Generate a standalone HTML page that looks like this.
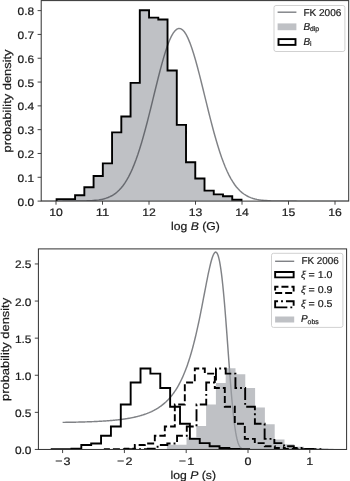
<!DOCTYPE html>
<html><head><meta charset="utf-8"><title>chart</title>
<style>html,body{margin:0;padding:0;background:#fff;}body{width:350px;height:481px;overflow:hidden;font-family:"Liberation Sans",sans-serif;}svg{display:block;will-change:transform;}text{text-rendering:geometricPrecision;stroke:#1a1a1a;stroke-width:0.2px;}</style>
</head><body>
<svg width="350" height="481" viewBox="0 0 350 481">
<rect width="350" height="481" fill="#fff"/>
<defs><clipPath id="ct"><rect x="41.2" y="0.6" width="307.5" height="200.5"/></clipPath>
<clipPath id="cb"><rect x="38.4" y="248.9" width="308.2" height="200.55"/></clipPath></defs>
<g clip-path="url(#ct)">
<path d="M56.6 201.1 L56.6 199.11 L65.85 199.11 L65.85 199.11 L75.09 199.11 L75.09 195.19 L84.34 195.19 L84.34 187.3 L93.58 187.3 L93.58 176.07 L102.83 176.07 L102.83 163.4 L112.07 163.4 L112.07 132.33 L121.31 132.33 L121.31 116.55 L130.56 116.55 L130.56 82.86 L139.8 82.86 L139.8 10.2 L149.05 10.2 L149.05 17.61 L158.29 17.61 L158.29 19.52 L167.53 19.52 L167.53 70.43 L176.78 70.43 L176.78 124.92 L186.02 124.92 L186.02 162.2 L195.27 162.2 L195.27 178.46 L204.51 178.46 L204.51 190.64 L213.76 190.64 L213.76 194.35 L223 194.35 L223 196.26 L232.24 196.26 L232.24 199.77 L241.49 199.77 L241.49 201.1 Z" fill="#000818" fill-opacity="0.25" stroke="none"/>
<path d="M37.4 201.1 L39.26 201.1 L41.12 201.1 L42.98 201.1 L44.84 201.1 L46.7 201.1 L48.56 201.1 L50.42 201.1 L52.28 201.1 L54.14 201.1 L56 201.1 L57.86 201.1 L59.72 201.1 L61.58 201.1 L63.44 201.09 L65.3 201.09 L67.16 201.09 L69.02 201.08 L70.88 201.08 L72.74 201.07 L74.6 201.06 L76.46 201.05 L78.32 201.03 L80.18 201 L82.04 200.97 L83.9 200.93 L85.76 200.88 L87.62 200.82 L89.48 200.73 L91.34 200.63 L93.2 200.5 L95.06 200.33 L96.92 200.13 L98.78 199.87 L100.64 199.56 L102.5 199.18 L104.36 198.72 L106.22 198.16 L108.08 197.49 L109.94 196.7 L111.8 195.75 L113.66 194.64 L115.52 193.34 L117.38 191.82 L119.24 190.07 L121.1 188.05 L122.96 185.74 L124.82 183.13 L126.68 180.17 L128.54 176.87 L130.4 173.18 L132.26 169.11 L134.12 164.63 L135.98 159.75 L137.84 154.47 L139.7 148.78 L141.56 142.71 L143.42 136.28 L145.28 129.52 L147.14 122.48 L149 115.19 L150.86 107.73 L152.72 100.16 L154.58 92.54 L156.44 84.97 L158.3 77.52 L160.16 70.29 L162.02 63.37 L163.88 56.84 L165.74 50.81 L167.6 45.35 L169.46 40.54 L171.32 36.45 L173.18 33.15 L175.04 30.69 L176.9 29.11 L178.76 28.42 L180.62 28.65 L182.48 29.79 L184.34 31.81 L186.2 34.7 L188.06 38.4 L189.92 42.85 L191.78 48 L193.64 53.76 L195.5 60.05 L197.36 66.79 L199.22 73.87 L201.08 81.22 L202.94 88.74 L204.8 96.35 L206.66 103.95 L208.52 111.48 L210.38 118.86 L212.24 126.03 L214.1 132.94 L215.96 139.54 L217.82 145.79 L219.68 151.67 L221.54 157.16 L223.4 162.24 L225.26 166.92 L227.12 171.19 L228.98 175.07 L230.84 178.57 L232.7 181.69 L234.56 184.47 L236.42 186.93 L238.28 189.09 L240.14 190.97 L242 192.61 L243.86 194.01 L245.72 195.22 L247.58 196.25 L249.44 197.11 L251.3 197.84 L253.16 198.45 L255.02 198.96 L256.88 199.38 L258.74 199.73 L260.6 200.01 L262.46 200.23 L264.32 200.42 L266.18 200.57 L268.04 200.68 L269.9 200.78 L271.76 200.85 L273.62 200.91 L275.48 200.95 L277.34 200.99 L279.2 201.02 L281.06 201.04 L282.92 201.05 L284.78 201.07 L286.64 201.07 L288.5 201.08 L290.36 201.09 L292.22 201.09 L294.08 201.09 L295.94 201.09 L297.8 201.1 L299.66 201.1 L301.52 201.1 L303.38 201.1 L305.24 201.1 L307.1 201.1 L308.96 201.1 L310.82 201.1 L312.68 201.1 L314.54 201.1 L316.4 201.1 L318.26 201.1 L320.12 201.1 L321.98 201.1 L323.84 201.1 L325.7 201.1 L327.56 201.1 L329.42 201.1 L331.28 201.1 L333.14 201.1 L335 201.1 L336.86 201.1 L338.72 201.1 L340.58 201.1 L342.44 201.1 L344.3 201.1 L346.16 201.1 L348.02 201.1 L349.88 201.1 L351.74 201.1 L353.6 201.1" fill="none" stroke="#32353c" stroke-opacity="0.62" stroke-width="1.45"/>
<path d="M56.6 201.1 L56.6 199.11 L65.85 199.11 L65.85 199.11 L75.09 199.11 L75.09 195.19 L84.34 195.19 L84.34 187.3 L93.58 187.3 L93.58 176.07 L102.83 176.07 L102.83 163.4 L112.07 163.4 L112.07 132.33 L121.31 132.33 L121.31 116.55 L130.56 116.55 L130.56 82.86 L139.8 82.86 L139.8 10.2 L149.05 10.2 L149.05 17.61 L158.29 17.61 L158.29 19.52 L167.53 19.52 L167.53 70.43 L176.78 70.43 L176.78 124.92 L186.02 124.92 L186.02 162.2 L195.27 162.2 L195.27 178.46 L204.51 178.46 L204.51 190.64 L213.76 190.64 L213.76 194.35 L223 194.35 L223 196.26 L232.24 196.26 L232.24 199.77 L241.49 199.77 L241.49 201.1" fill="none" stroke="#000" stroke-width="1.9" stroke-linejoin="miter"/>
</g>
<rect x="41.2" y="0.6" width="307.5" height="200.5" fill="none" stroke="#303030" stroke-width="1.0"/>
<line x1="56" y1="201.1" x2="56" y2="204.7" stroke="#303030" stroke-width="0.9"/>
<text x="56" y="216.3" font-family="Liberation Sans, sans-serif" font-size="10.9" text-anchor="middle" fill="#1a1a1a" textLength="13.6" lengthAdjust="spacingAndGlyphs" >10</text>
<line x1="102.5" y1="201.1" x2="102.5" y2="204.7" stroke="#303030" stroke-width="0.9"/>
<text x="102.5" y="216.3" font-family="Liberation Sans, sans-serif" font-size="10.9" text-anchor="middle" fill="#1a1a1a" textLength="13.6" lengthAdjust="spacingAndGlyphs" >11</text>
<line x1="149" y1="201.1" x2="149" y2="204.7" stroke="#303030" stroke-width="0.9"/>
<text x="149" y="216.3" font-family="Liberation Sans, sans-serif" font-size="10.9" text-anchor="middle" fill="#1a1a1a" textLength="13.6" lengthAdjust="spacingAndGlyphs" >12</text>
<line x1="195.5" y1="201.1" x2="195.5" y2="204.7" stroke="#303030" stroke-width="0.9"/>
<text x="195.5" y="216.3" font-family="Liberation Sans, sans-serif" font-size="10.9" text-anchor="middle" fill="#1a1a1a" textLength="13.6" lengthAdjust="spacingAndGlyphs" >13</text>
<line x1="242" y1="201.1" x2="242" y2="204.7" stroke="#303030" stroke-width="0.9"/>
<text x="242" y="216.3" font-family="Liberation Sans, sans-serif" font-size="10.9" text-anchor="middle" fill="#1a1a1a" textLength="13.6" lengthAdjust="spacingAndGlyphs" >14</text>
<line x1="288.5" y1="201.1" x2="288.5" y2="204.7" stroke="#303030" stroke-width="0.9"/>
<text x="288.5" y="216.3" font-family="Liberation Sans, sans-serif" font-size="10.9" text-anchor="middle" fill="#1a1a1a" textLength="13.6" lengthAdjust="spacingAndGlyphs" >15</text>
<line x1="335" y1="201.1" x2="335" y2="204.7" stroke="#303030" stroke-width="0.9"/>
<text x="335" y="216.3" font-family="Liberation Sans, sans-serif" font-size="10.9" text-anchor="middle" fill="#1a1a1a" textLength="13.6" lengthAdjust="spacingAndGlyphs" >16</text>
<line x1="37.6" y1="201.1" x2="41.2" y2="201.1" stroke="#303030" stroke-width="0.9"/>
<text x="34.2" y="205.6" font-family="Liberation Sans, sans-serif" font-size="10.9" text-anchor="end" fill="#1a1a1a" textLength="16.6" lengthAdjust="spacingAndGlyphs" >0.0</text>
<line x1="37.6" y1="177.29" x2="41.2" y2="177.29" stroke="#303030" stroke-width="0.9"/>
<text x="34.2" y="181.79" font-family="Liberation Sans, sans-serif" font-size="10.9" text-anchor="end" fill="#1a1a1a" textLength="16.6" lengthAdjust="spacingAndGlyphs" >0.1</text>
<line x1="37.6" y1="153.48" x2="41.2" y2="153.48" stroke="#303030" stroke-width="0.9"/>
<text x="34.2" y="157.98" font-family="Liberation Sans, sans-serif" font-size="10.9" text-anchor="end" fill="#1a1a1a" textLength="16.6" lengthAdjust="spacingAndGlyphs" >0.2</text>
<line x1="37.6" y1="129.67" x2="41.2" y2="129.67" stroke="#303030" stroke-width="0.9"/>
<text x="34.2" y="134.17" font-family="Liberation Sans, sans-serif" font-size="10.9" text-anchor="end" fill="#1a1a1a" textLength="16.6" lengthAdjust="spacingAndGlyphs" >0.3</text>
<line x1="37.6" y1="105.86" x2="41.2" y2="105.86" stroke="#303030" stroke-width="0.9"/>
<text x="34.2" y="110.36" font-family="Liberation Sans, sans-serif" font-size="10.9" text-anchor="end" fill="#1a1a1a" textLength="16.6" lengthAdjust="spacingAndGlyphs" >0.4</text>
<line x1="37.6" y1="82.05" x2="41.2" y2="82.05" stroke="#303030" stroke-width="0.9"/>
<text x="34.2" y="86.55" font-family="Liberation Sans, sans-serif" font-size="10.9" text-anchor="end" fill="#1a1a1a" textLength="16.6" lengthAdjust="spacingAndGlyphs" >0.5</text>
<line x1="37.6" y1="58.24" x2="41.2" y2="58.24" stroke="#303030" stroke-width="0.9"/>
<text x="34.2" y="62.74" font-family="Liberation Sans, sans-serif" font-size="10.9" text-anchor="end" fill="#1a1a1a" textLength="16.6" lengthAdjust="spacingAndGlyphs" >0.6</text>
<line x1="37.6" y1="34.43" x2="41.2" y2="34.43" stroke="#303030" stroke-width="0.9"/>
<text x="34.2" y="38.93" font-family="Liberation Sans, sans-serif" font-size="10.9" text-anchor="end" fill="#1a1a1a" textLength="16.6" lengthAdjust="spacingAndGlyphs" >0.7</text>
<line x1="37.6" y1="10.62" x2="41.2" y2="10.62" stroke="#303030" stroke-width="0.9"/>
<text x="34.2" y="15.12" font-family="Liberation Sans, sans-serif" font-size="10.9" text-anchor="end" fill="#1a1a1a" textLength="16.6" lengthAdjust="spacingAndGlyphs" >0.8</text>
<text x="195.4" y="230.4" font-family="Liberation Sans, sans-serif" font-size="11.3" text-anchor="middle" fill="#1a1a1a" textLength="48.8" lengthAdjust="spacingAndGlyphs">log <tspan font-style="italic">B</tspan> (G)</text>
<text transform="translate(11.3,101.0) rotate(-90)" font-family="Liberation Sans, sans-serif" font-size="11.3" text-anchor="middle" fill="#1a1a1a" textLength="103" lengthAdjust="spacingAndGlyphs">probability density</text>
<rect x="274" y="5.5" width="70.9" height="46" rx="2" ry="2" fill="#fff" fill-opacity="0.8" stroke="#cccccc" stroke-width="0.9"/>
<line x1="277.6" y1="12.2" x2="296.4" y2="12.2" stroke="#32353c" stroke-opacity="0.62" stroke-width="1.45"/>
<text x="303.4" y="15.8" font-family="Liberation Sans, sans-serif" font-size="10" text-anchor="start" fill="#1a1a1a" textLength="38" lengthAdjust="spacingAndGlyphs" >FK 2006</text>
<rect x="277.6" y="23.4" width="18.8" height="6.8" fill="#000818" fill-opacity="0.25"/>
<text x="303.4" y="29.8" font-family="Liberation Sans, sans-serif" font-size="10" fill="#1a1a1a"><tspan font-style="italic">B</tspan><tspan font-size="6.8" dy="1.3">dip</tspan></text>
<rect x="278.5" y="39.1" width="17" height="5.8" fill="none" stroke="#000" stroke-width="1.9"/>
<text x="303.4" y="45.1" font-family="Liberation Sans, sans-serif" font-size="10" fill="#1a1a1a"><tspan font-style="italic">B</tspan><tspan font-size="6.8" dy="1.3">i</tspan></text>
<g clip-path="url(#cb)">
<path d="M62.6 422.38 L63.22 422.38 L63.84 422.37 L64.45 422.36 L65.07 422.35 L65.69 422.34 L66.31 422.33 L66.93 422.32 L67.54 422.31 L68.16 422.3 L68.78 422.29 L69.4 422.28 L70.02 422.27 L70.63 422.26 L71.25 422.25 L71.87 422.24 L72.49 422.22 L73.11 422.21 L73.72 422.2 L74.34 422.19 L74.96 422.17 L75.58 422.16 L76.2 422.15 L76.81 422.13 L77.43 422.12 L78.05 422.1 L78.67 422.09 L79.29 422.07 L79.9 422.06 L80.52 422.04 L81.14 422.02 L81.76 422.01 L82.38 421.99 L82.99 421.97 L83.61 421.95 L84.23 421.94 L84.85 421.92 L85.47 421.9 L86.08 421.88 L86.7 421.86 L87.32 421.84 L87.94 421.82 L88.56 421.79 L89.17 421.77 L89.79 421.75 L90.41 421.72 L91.03 421.7 L91.65 421.68 L92.26 421.65 L92.88 421.62 L93.5 421.6 L94.12 421.57 L94.74 421.54 L95.35 421.52 L95.97 421.49 L96.59 421.46 L97.21 421.43 L97.83 421.39 L98.44 421.36 L99.06 421.33 L99.68 421.3 L100.3 421.26 L100.92 421.23 L101.53 421.19 L102.15 421.15 L102.77 421.12 L103.39 421.08 L104.01 421.04 L104.62 421 L105.24 420.96 L105.86 420.91 L106.48 420.87 L107.1 420.82 L107.71 420.78 L108.33 420.73 L108.95 420.68 L109.57 420.63 L110.19 420.58 L110.8 420.53 L111.42 420.48 L112.04 420.42 L112.66 420.37 L113.28 420.31 L113.89 420.25 L114.51 420.19 L115.13 420.13 L115.75 420.07 L116.37 420 L116.98 419.94 L117.6 419.87 L118.22 419.8 L118.84 419.73 L119.46 419.66 L120.07 419.58 L120.69 419.5 L121.31 419.43 L121.93 419.34 L122.55 419.26 L123.16 419.18 L123.78 419.09 L124.4 419 L125.02 418.91 L125.64 418.82 L126.25 418.72 L126.87 418.62 L127.49 418.52 L128.11 418.42 L128.73 418.31 L129.34 418.2 L129.96 418.09 L130.58 417.97 L131.2 417.85 L131.82 417.73 L132.43 417.61 L133.05 417.48 L133.67 417.35 L134.29 417.22 L134.91 417.08 L135.52 416.94 L136.14 416.79 L136.76 416.64 L137.38 416.49 L138 416.33 L138.61 416.17 L139.23 416 L139.85 415.83 L140.47 415.66 L141.09 415.48 L141.7 415.29 L142.32 415.1 L142.94 414.91 L143.56 414.71 L144.18 414.5 L144.79 414.29 L145.41 414.07 L146.03 413.85 L146.65 413.62 L147.27 413.39 L147.88 413.14 L148.5 412.89 L149.12 412.64 L149.74 412.37 L150.36 412.1 L150.97 411.82 L151.59 411.54 L152.21 411.24 L152.83 410.94 L153.45 410.62 L154.06 410.3 L154.68 409.97 L155.3 409.63 L155.92 409.28 L156.54 408.92 L157.15 408.55 L157.77 408.16 L158.39 407.77 L159.01 407.36 L159.63 406.94 L160.24 406.51 L160.86 406.07 L161.48 405.61 L162.1 405.14 L162.72 404.65 L163.33 404.15 L163.95 403.63 L164.57 403.1 L165.19 402.55 L165.81 401.99 L166.42 401.4 L167.04 400.8 L167.66 400.18 L168.28 399.54 L168.9 398.87 L169.51 398.19 L170.13 397.49 L170.75 396.76 L171.37 396.01 L171.99 395.23 L172.6 394.43 L173.22 393.6 L173.84 392.75 L174.46 391.87 L175.08 390.96 L175.69 390.02 L176.31 389.05 L176.93 388.04 L177.55 387.01 L178.17 385.94 L178.78 384.83 L179.4 383.69 L180.02 382.51 L180.64 381.29 L181.26 380.03 L181.87 378.72 L182.49 377.38 L183.11 375.99 L183.73 374.55 L184.35 373.07 L184.96 371.54 L185.58 369.95 L186.2 368.32 L186.82 366.63 L187.44 364.89 L188.05 363.09 L188.67 361.24 L189.29 359.32 L189.91 357.35 L190.53 355.32 L191.14 353.22 L191.76 351.06 L192.38 348.83 L193 346.54 L193.62 344.19 L194.23 341.77 L194.85 339.28 L195.47 336.73 L196.09 334.11 L196.71 331.42 L197.32 328.67 L197.94 325.86 L198.56 322.99 L199.18 320.06 L199.8 317.07 L200.41 314.03 L201.03 310.94 L201.65 307.81 L202.27 304.65 L202.89 301.45 L203.5 298.23 L204.12 295 L204.74 291.76 L205.36 288.53 L205.98 285.32 L206.59 282.15 L207.21 279.02 L207.83 275.95 L208.45 272.97 L209.07 270.09 L209.68 267.34 L210.3 264.72 L210.92 262.28 L211.54 260.04 L212.16 258.01 L212.77 256.24 L213.39 254.74 L214.01 253.55 L214.63 252.7 L215.25 252.21 L215.86 252.12 L216.48 252.46 L217.1 253.26 L217.72 254.53 L218.34 256.31 L218.95 258.61 L219.57 261.46 L220.19 264.85 L220.81 268.81 L221.43 273.32 L222.04 278.38 L222.66 283.99 L223.28 290.11 L223.9 296.71 L224.52 303.77 L225.13 311.22 L225.75 319.02 L226.37 327.11 L226.99 335.41 L227.61 343.84 L228.22 352.34 L228.84 360.81 L229.46 369.17 L230.08 377.35 L230.7 385.26 L231.31 392.83 L231.93 399.99 L232.55 406.69 L233.17 412.89 L233.79 418.54 L234.4 423.64 L235.02 428.17 L235.64 432.15 L236.26 435.58 L236.88 438.49 L237.49 440.93 L238.11 442.94 L238.73 444.56 L239.35 445.85 L239.97 446.85 L240.58 447.61 L241.2 448.17 L241.82 448.59 L242.44 448.88 L243.06 449.08 L243.67 449.22 L244.29 449.31 L244.91 449.37 L245.53 449.4 L246.15 449.42 L246.76 449.44 L247.38 449.44 L248 449.45 L248.62 449.45 L249.24 449.45 L249.85 449.45 L250.47 449.45 L251.09 449.45 L251.71 449.45 L252.33 449.45 L252.94 449.45 L253.56 449.45 L254.18 449.45 L254.8 449.45 L255.42 449.45 L256.03 449.45 L256.65 449.45 L257.27 449.45 L257.89 449.45 L258.51 449.45 L259.12 449.45 L259.74 449.45 L260.36 449.45 L260.98 449.45 L261.6 449.45 L262.21 449.45 L262.83 449.45 L263.45 449.45 L264.07 449.45 L264.69 449.45 L265.3 449.45 L265.92 449.45 L266.54 449.45 L267.16 449.45 L267.78 449.45 L268.39 449.45 L269.01 449.45 L269.63 449.45 L270.25 449.45 L270.87 449.45 L271.48 449.45 L272.1 449.45 L272.72 449.45 L273.34 449.45 L273.96 449.45 L274.57 449.45 L275.19 449.45 L275.81 449.45 L276.43 449.45 L277.05 449.45 L277.66 449.45 L278.28 449.45 L278.9 449.45 L279.52 449.45 L280.14 449.45 L280.75 449.45 L281.37 449.45 L281.99 449.45 L282.61 449.45 L283.23 449.45 L283.84 449.45 L284.46 449.45 L285.08 449.45 L285.7 449.45 L286.32 449.45 L286.93 449.45 L287.55 449.45 L288.17 449.45 L288.79 449.45 L289.41 449.45 L290.02 449.45 L290.64 449.45 L291.26 449.45 L291.88 449.45 L292.5 449.45 L293.11 449.45 L293.73 449.45 L294.35 449.45 L294.97 449.45 L295.59 449.45 L296.2 449.45 L296.82 449.45 L297.44 449.45 L298.06 449.45 L298.68 449.45 L299.29 449.45 L299.91 449.45 L300.53 449.45 L301.15 449.45 L301.77 449.45 L302.38 449.45 L303 449.45 L303.62 449.45 L304.24 449.45 L304.86 449.45 L305.47 449.45 L306.09 449.45 L306.71 449.45 L307.33 449.45 L307.95 449.45 L308.56 449.45 L309.18 449.45 L309.8 449.45 L310.42 449.45 L311.04 449.45 L311.65 449.45 L312.27 449.45 L312.89 449.45 L313.51 449.45 L314.13 449.45 L314.74 449.45 L315.36 449.45 L315.98 449.45 L316.6 449.45 L317.22 449.45 L317.83 449.45 L318.45 449.45 L319.07 449.45 L319.69 449.45 L320.31 449.45 L320.92 449.45 L321.54 449.45 L322.16 449.45 L322.78 449.45 L323.4 449.45 L324.01 449.45 L324.63 449.45 L325.25 449.45 L325.87 449.45 L326.49 449.45 L327.1 449.45 L327.72 449.45 L328.34 449.45" fill="none" stroke="#32353c" stroke-opacity="0.62" stroke-width="1.45"/>
<path d="M137.5 449.45 L137.5 449.45 L147.3 449.45 L147.3 449.45 L157.1 449.45 L157.1 449.45 L166.9 449.45 L166.9 444.85 L176.7 444.85 L176.7 444.85 L186.5 444.85 L186.5 437.13 L196.3 437.13 L196.3 425.93 L206.1 425.93 L206.1 404.56 L215.9 404.56 L215.9 382.97 L225.7 382.97 L225.7 368.35 L235.5 368.35 L235.5 374.14 L245.3 374.14 L245.3 387.94 L255.1 387.94 L255.1 407.53 L264.9 407.53 L264.9 424.15 L274.7 424.15 L274.7 439.43 L284.5 439.43 L284.5 444.26 L294.3 444.26 L294.3 446.78 L304.1 446.78 L304.1 447.97 L313.9 447.97 L313.9 448.56 L323.7 448.56 L323.7 448.86 L333.5 448.86 L333.5 449.45 Z" fill="#a0a3a9" fill-opacity="0.67"/>
<path d="M51.7 449.45 L51.7 449.23 L61.57 449.23 L61.57 449.23 L71.44 449.23 L71.44 448.71 L81.31 448.71 L81.31 445 L91.18 445 L91.18 443.51 L101.05 443.51 L101.05 435.72 L110.92 435.72 L110.92 426.45 L120.79 426.45 L120.79 404.56 L130.66 404.56 L130.66 382.45 L140.53 382.45 L140.53 368.57 L150.4 368.57 L150.4 373.62 L160.27 373.62 L160.27 387.94 L170.14 387.94 L170.14 406.78 L180.01 406.78 L180.01 423.78 L189.88 423.78 L189.88 438.84 L199.75 438.84 L199.75 443.14 L209.62 443.14 L209.62 446.26 L219.49 446.26 L219.49 447.97 L229.36 447.97 L229.36 449 L239.23 449 L239.23 449.23 L249.1 449.23 L249.1 449.45" fill="none" stroke="#000" stroke-width="1.9"/>
<path d="M104.8 449.45 L104.8 449.23 L114.8 449.23 L114.8 449.23 L124.8 449.23 L124.8 448.71 L134.8 448.71 L134.8 445 L144.8 445 L144.8 443.51 L154.8 443.51 L154.8 435.72 L164.8 435.72 L164.8 426.45 L174.8 426.45 L174.8 404.56 L184.8 404.56 L184.8 382.45 L194.8 382.45 L194.8 368.57 L204.8 368.57 L204.8 373.62 L214.8 373.62 L214.8 387.94 L224.8 387.94 L224.8 406.78 L234.8 406.78 L234.8 423.78 L244.8 423.78 L244.8 438.84 L254.8 438.84 L254.8 443.14 L264.8 443.14 L264.8 446.26 L274.8 446.26 L274.8 447.97 L284.8 447.97 L284.8 449 L294.8 449 L294.8 449.23 L304.8 449.23 L304.8 449.45" fill="none" stroke="#000" stroke-width="1.9" stroke-dasharray="7 3" stroke-dashoffset="1.7"/>
<path d="M128.4 449.45 L128.4 449.23 L138.13 449.23 L138.13 449.23 L147.86 449.23 L147.86 448.71 L157.59 448.71 L157.59 445 L167.32 445 L167.32 443.51 L177.05 443.51 L177.05 435.72 L186.78 435.72 L186.78 426.45 L196.51 426.45 L196.51 404.56 L206.24 404.56 L206.24 382.45 L215.97 382.45 L215.97 368.57 L225.7 368.57 L225.7 373.62 L235.43 373.62 L235.43 387.94 L245.16 387.94 L245.16 406.78 L254.89 406.78 L254.89 423.78 L264.62 423.78 L264.62 438.84 L274.35 438.84 L274.35 443.14 L284.08 443.14 L284.08 446.26 L293.81 446.26 L293.81 447.97 L303.54 447.97 L303.54 449 L313.27 449 L313.27 449.23 L323 449.23 L323 449.45" fill="none" stroke="#000" stroke-width="1.9" stroke-dasharray="12.2 3 1.9 3" stroke-dashoffset="4.3"/>
</g>
<rect x="38.4" y="248.9" width="308.2" height="200.55" fill="none" stroke="#303030" stroke-width="1.0"/>
<line x1="62.6" y1="449.45" x2="62.6" y2="453.05" stroke="#303030" stroke-width="0.9"/>
<line x1="55.7" y1="461.0" x2="62" y2="461.0" stroke="#1a1a1a" stroke-width="0.95"/>
<text x="63.6" y="465.2" font-family="Liberation Sans, sans-serif" font-size="10.9" text-anchor="start" fill="#1a1a1a" textLength="7" lengthAdjust="spacingAndGlyphs" >3</text>
<line x1="124.4" y1="449.45" x2="124.4" y2="453.05" stroke="#303030" stroke-width="0.9"/>
<line x1="117.5" y1="461.0" x2="123.8" y2="461.0" stroke="#1a1a1a" stroke-width="0.95"/>
<text x="125.4" y="465.2" font-family="Liberation Sans, sans-serif" font-size="10.9" text-anchor="start" fill="#1a1a1a" textLength="7" lengthAdjust="spacingAndGlyphs" >2</text>
<line x1="186.2" y1="449.45" x2="186.2" y2="453.05" stroke="#303030" stroke-width="0.9"/>
<line x1="179.3" y1="461.0" x2="185.6" y2="461.0" stroke="#1a1a1a" stroke-width="0.95"/>
<text x="187.2" y="465.2" font-family="Liberation Sans, sans-serif" font-size="10.9" text-anchor="start" fill="#1a1a1a" textLength="7" lengthAdjust="spacingAndGlyphs" >1</text>
<line x1="248" y1="449.45" x2="248" y2="453.05" stroke="#303030" stroke-width="0.9"/>
<text x="248" y="465.2" font-family="Liberation Sans, sans-serif" font-size="10.9" text-anchor="middle" fill="#1a1a1a" textLength="7" lengthAdjust="spacingAndGlyphs" >0</text>
<line x1="309.8" y1="449.45" x2="309.8" y2="453.05" stroke="#303030" stroke-width="0.9"/>
<text x="309.8" y="465.2" font-family="Liberation Sans, sans-serif" font-size="10.9" text-anchor="middle" fill="#1a1a1a" textLength="7" lengthAdjust="spacingAndGlyphs" >1</text>
<line x1="34.8" y1="449.45" x2="38.4" y2="449.45" stroke="#303030" stroke-width="0.9"/>
<text x="31.5" y="453.95" font-family="Liberation Sans, sans-serif" font-size="10.9" text-anchor="end" fill="#1a1a1a" textLength="16.6" lengthAdjust="spacingAndGlyphs" >0.0</text>
<line x1="34.8" y1="412.35" x2="38.4" y2="412.35" stroke="#303030" stroke-width="0.9"/>
<text x="31.5" y="416.85" font-family="Liberation Sans, sans-serif" font-size="10.9" text-anchor="end" fill="#1a1a1a" textLength="16.6" lengthAdjust="spacingAndGlyphs" >0.5</text>
<line x1="34.8" y1="375.25" x2="38.4" y2="375.25" stroke="#303030" stroke-width="0.9"/>
<text x="31.5" y="379.75" font-family="Liberation Sans, sans-serif" font-size="10.9" text-anchor="end" fill="#1a1a1a" textLength="16.6" lengthAdjust="spacingAndGlyphs" >1.0</text>
<line x1="34.8" y1="338.15" x2="38.4" y2="338.15" stroke="#303030" stroke-width="0.9"/>
<text x="31.5" y="342.65" font-family="Liberation Sans, sans-serif" font-size="10.9" text-anchor="end" fill="#1a1a1a" textLength="16.6" lengthAdjust="spacingAndGlyphs" >1.5</text>
<line x1="34.8" y1="301.05" x2="38.4" y2="301.05" stroke="#303030" stroke-width="0.9"/>
<text x="31.5" y="305.55" font-family="Liberation Sans, sans-serif" font-size="10.9" text-anchor="end" fill="#1a1a1a" textLength="16.6" lengthAdjust="spacingAndGlyphs" >2.0</text>
<line x1="34.8" y1="263.95" x2="38.4" y2="263.95" stroke="#303030" stroke-width="0.9"/>
<text x="31.5" y="268.45" font-family="Liberation Sans, sans-serif" font-size="10.9" text-anchor="end" fill="#1a1a1a" textLength="16.6" lengthAdjust="spacingAndGlyphs" >2.5</text>
<text x="193.3" y="478.7" font-family="Liberation Sans, sans-serif" font-size="11.3" text-anchor="middle" fill="#1a1a1a" textLength="45.4" lengthAdjust="spacingAndGlyphs">log <tspan font-style="italic">P</tspan> (s)</text>
<text transform="translate(8.9,349.4) rotate(-90)" font-family="Liberation Sans, sans-serif" font-size="11.3" text-anchor="middle" fill="#1a1a1a" textLength="103" lengthAdjust="spacingAndGlyphs">probability density</text>
<rect x="271.5" y="253.3" width="71.4" height="74.1" rx="2" ry="2" fill="#fff" fill-opacity="0.8" stroke="#cccccc" stroke-width="0.9"/>
<line x1="275.1" y1="261.3" x2="294.2" y2="261.3" stroke="#32353c" stroke-opacity="0.62" stroke-width="1.45"/>
<text x="301.4" y="264.3" font-family="Liberation Sans, sans-serif" font-size="10" text-anchor="start" fill="#1a1a1a" textLength="37.4" lengthAdjust="spacingAndGlyphs" >FK 2006</text>
<path d="M275.15 277.35 L293.65 277.35 L293.65 272.05 L275.15 272.05 Z" fill="none" stroke="#000" stroke-width="1.9" />
<text x="300.9" y="278.2" font-family="Liberation Sans, sans-serif" font-size="10" fill="#1a1a1a" textLength="31.6" lengthAdjust="spacingAndGlyphs"><tspan font-style="italic">ξ</tspan> = 1.0</text>
<path d="M275.15 293 L293.65 293 L293.65 286.7 L275.15 286.7 Z" fill="none" stroke="#000" stroke-width="1.9" stroke-dasharray="7 3"/>
<text x="300.9" y="292.9" font-family="Liberation Sans, sans-serif" font-size="10" fill="#1a1a1a" textLength="31.6" lengthAdjust="spacingAndGlyphs"><tspan font-style="italic">ξ</tspan> = 0.9</text>
<path d="M275.15 307.35 L293.65 307.35 L293.65 301.25 L275.15 301.25 Z" fill="none" stroke="#000" stroke-width="1.9" stroke-dasharray="12.2 3 1.9 3"/>
<text x="300.9" y="307.3" font-family="Liberation Sans, sans-serif" font-size="10" fill="#1a1a1a" textLength="31.6" lengthAdjust="spacingAndGlyphs"><tspan font-style="italic">ξ</tspan> = 0.5</text>
<rect x="275.1" y="316.5" width="19.1" height="6" fill="#000818" fill-opacity="0.25"/>
<text x="300.9" y="322.3" font-family="Liberation Sans, sans-serif" font-size="10" fill="#1a1a1a"><tspan font-style="italic">P</tspan><tspan font-size="6.9" dy="1.2">obs</tspan></text>
</svg>
</body></html>
